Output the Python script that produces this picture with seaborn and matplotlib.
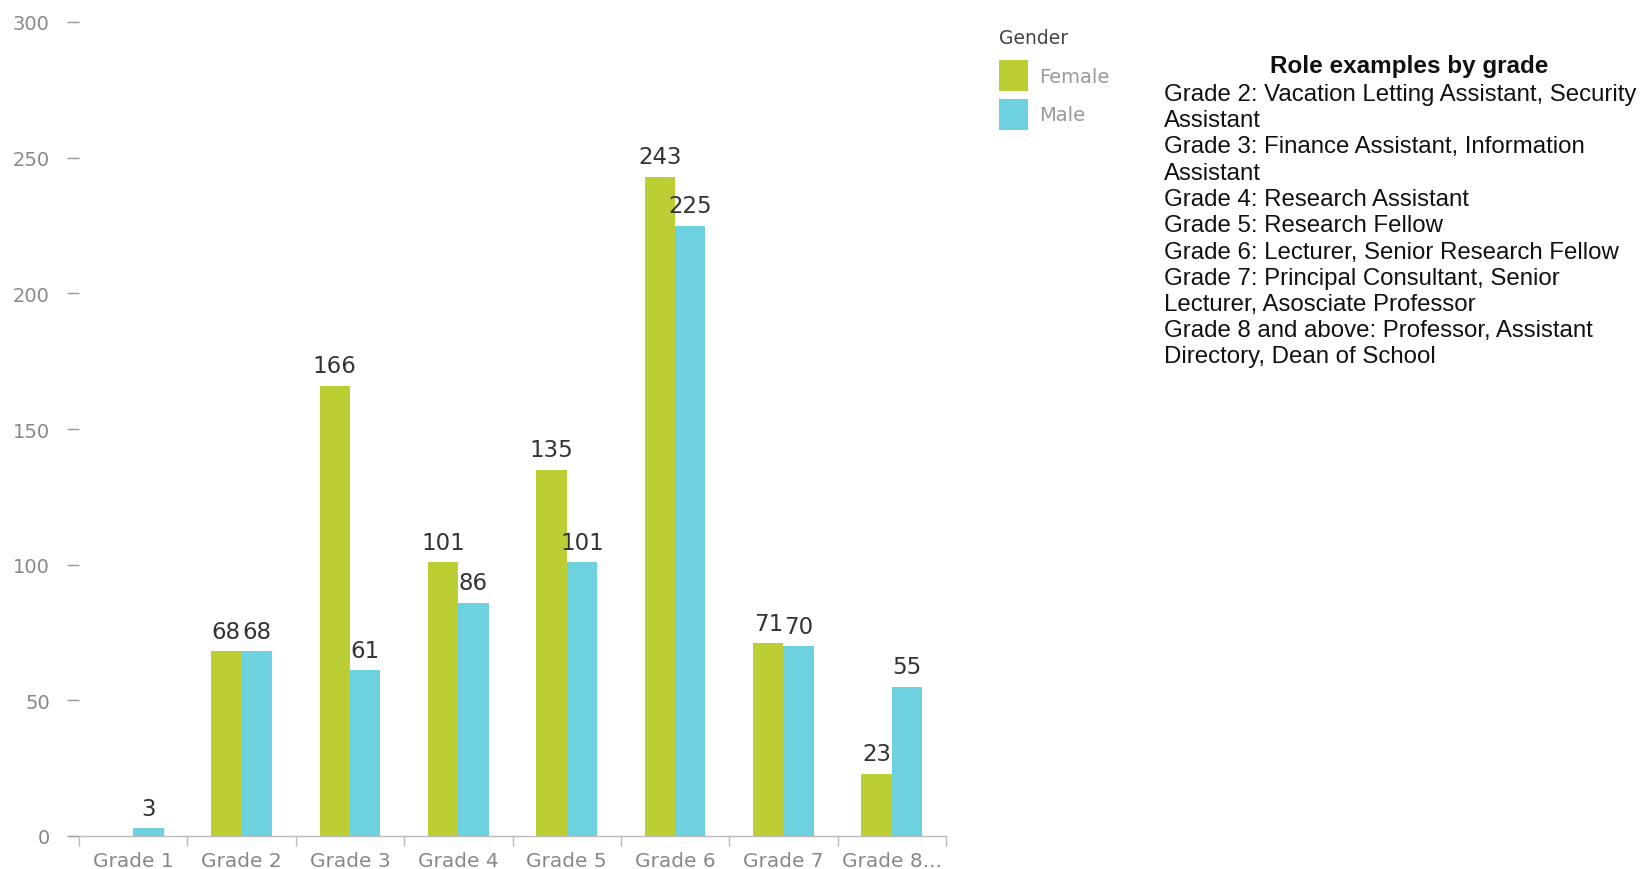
import numpy as np
import pandas as pd
import matplotlib
matplotlib.use("Agg")
import matplotlib.pyplot as plt
import seaborn as sns

grades = ["Grade 1", "Grade 2", "Grade 3", "Grade 4", "Grade 5", "Grade 6", "Grade 7", "Grade 8..."]
female = [0, 68, 166, 101, 135, 243, 71, 23]
male = [3, 68, 61, 86, 101, 225, 70, 55]
genders = ["Female", "Male"]
colors = ["#BDCE35", "#6DD1DF"]
y_ticks = [0, 50, 100, 150, 200, 250, 300]

role_title = "Role examples by grade"
role_lines = [
    "Grade 2: Vacation Letting Assistant, Security",
    "Assistant",
    "Grade 3: Finance Assistant, Information",
    "Assistant",
    "Grade 4: Research Assistant",
    "Grade 5: Research Fellow",
    "Grade 6: Lecturer, Senior Research Fellow",
    "Grade 7: Principal Consultant, Senior",
    "Lecturer, Asosciate Professor",
    "Grade 8 and above: Professor, Assistant",
    "Directory, Dean of School",
]

df = pd.DataFrame({
    "Grade": grades * 2,
    "Gender": ["Female"] * len(grades) + ["Male"] * len(grades),
    "Count": female + male,
})

sns.set_theme(style="white")
plt.rcParams["font.family"] = ["DejaVu Sans"]

W, H = 1645, 870
fig = plt.figure(figsize=(W / 100, H / 100), dpi=100)
ax = fig.add_axes([79 / W, 1 - 837 / H, (946 - 79) / W, (837 - 23) / H])

sns.barplot(data=df, x="Grade", y="Count", hue="Gender", order=grades,
            hue_order=genders, palette=colors, width=0.56, saturation=1,
            gap=0, ax=ax, errorbar=None, linewidth=0)

for cont in ax.containers:
    labels = [f"{v:.0f}" if v > 0 else "" for v in cont.datavalues]
    ax.bar_label(cont, labels=labels, padding=6, fontsize=16.5, color="#333333")

ax.set_ylim(0, 300)
ax.set_xlim(-0.5, len(grades) - 0.5)
ax.set_yticks(y_ticks)
ax.set_xlabel("")
ax.set_ylabel("")

for s in ["left", "top", "right"]:
    ax.spines[s].set_visible(False)
ax.spines["bottom"].set_color("#BBBBBB")
ax.spines["bottom"].set_linewidth(1.0)

ax.tick_params(axis="y", which="major", left=True, length=9, width=1,
               color="#999999", labelcolor="#888888", labelsize=14, pad=12)
ax.tick_params(axis="x", which="major", bottom=False, labelcolor="#888888",
               labelsize=14.5, pad=5)
ax.set_xticks(np.arange(-0.5, len(grades), 1), minor=True)
ax.tick_params(axis="x", which="minor", bottom=True, length=7, width=1,
               color="#BBBBBB", direction="out")

# Legend: title drawn separately so the swatches can sit a little lower
handles, labels = ax.get_legend_handles_labels()
ax.get_legend().remove()
fig.text(999 / W, 1 - 38 / H, "Gender", ha="left", va="center",
         fontsize=13.5, color="#444444")
leg = fig.legend(handles, labels, loc="upper left",
                 bbox_to_anchor=(999 / W, 1 - 61 / H), frameon=False,
                 handlelength=1.5, handleheight=2.1, handletextpad=0.55,
                 labelspacing=0.38, fontsize=14, borderpad=0, borderaxespad=0)
for t in leg.get_texts():
    t.set_color("#999999")

fig.text(1409 / W, 1 - 67 / H, role_title, ha="center", va="center",
         fontsize=17.5, fontweight="bold", family="Liberation Sans", color="#111111")
fig.text(1164 / W, 1 - 84 / H, "\n".join(role_lines), ha="left", va="top",
         fontsize=17.3, family="Liberation Sans", color="#111111", linespacing=1.25)

fig.savefig("out.png", dpi=100, facecolor="white")
